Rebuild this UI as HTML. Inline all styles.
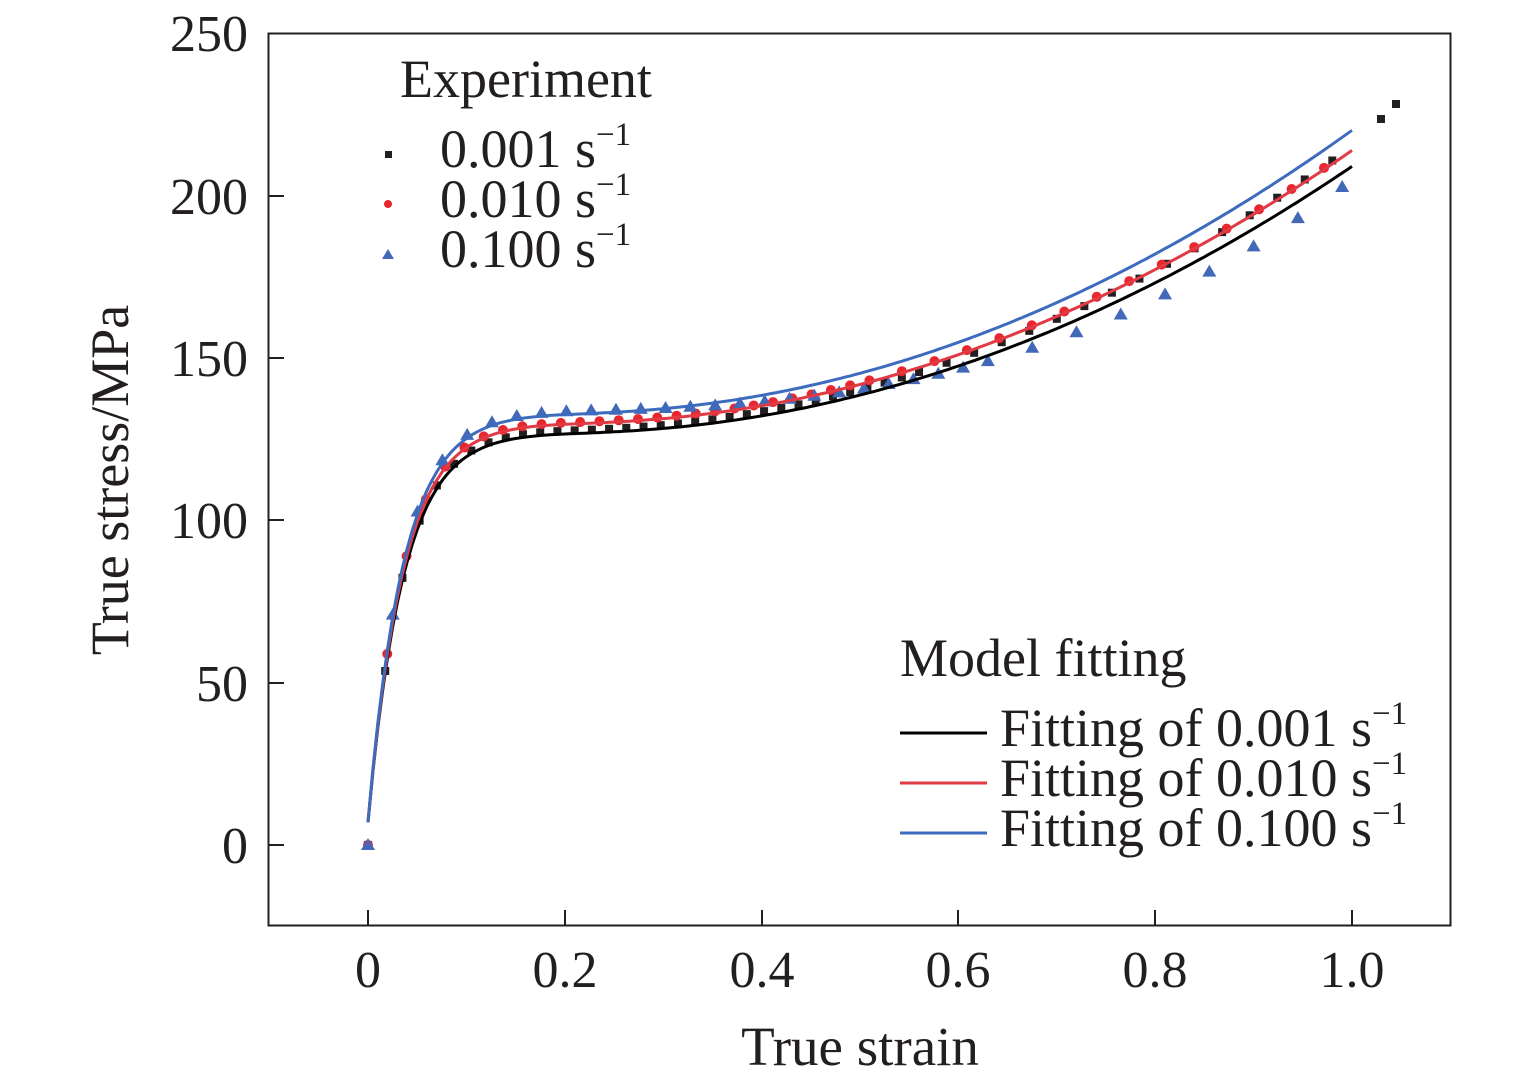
<!DOCTYPE html>
<html><head><meta charset="utf-8"><style>
body{margin:0;background:#fff}
svg text{font-family:"Liberation Serif",serif;fill:#231f20}
</style></head><body>
<svg id="s" width="1535" height="1083" xmlns="http://www.w3.org/2000/svg">
<rect x="268.5" y="33.5" width="1182" height="892" fill="none" stroke="#231f20" stroke-width="2"/>
<g stroke="#231f20" stroke-width="2">
<line x1="268" y1="845" x2="284" y2="845"/><line x1="268" y1="683" x2="284" y2="683"/><line x1="268" y1="520" x2="284" y2="520"/><line x1="268" y1="358" x2="284" y2="358"/><line x1="268" y1="196" x2="284" y2="196"/>
<line x1="368" y1="926" x2="368" y2="910"/><line x1="565" y1="926" x2="565" y2="910"/><line x1="762" y1="926" x2="762" y2="910"/><line x1="958" y1="926" x2="958" y2="910"/><line x1="1155" y1="926" x2="1155" y2="910"/><line x1="1352" y1="926" x2="1352" y2="910"/>
</g>
<g font-size="52" text-anchor="end">
<text x="248" y="863">0</text><text x="248" y="701">50</text><text x="248" y="538">100</text><text x="248" y="376">150</text><text x="248" y="214">200</text><text x="248" y="51">250</text>
</g>
<g font-size="52" text-anchor="middle">
<text x="368" y="987">0</text><text x="565" y="987">0.2</text><text x="762" y="987">0.4</text><text x="958" y="987">0.6</text><text x="1155" y="987">0.8</text><text x="1352" y="987">1.0</text>
</g>
<text x="860" y="1065" font-size="55" text-anchor="middle">True strain</text>
<text transform="translate(128,480) rotate(-90)" font-size="54" text-anchor="middle">True stress/MPa</text>
<g font-size="54">
<text x="400" y="97">Experiment</text>
<text x="440" y="167">0.001 s<tspan font-size="33" dy="-22">−1</tspan></text>
<text x="440" y="217">0.010 s<tspan font-size="33" dy="-22">−1</tspan></text>
<text x="440" y="267">0.100 s<tspan font-size="33" dy="-22">−1</tspan></text>
<text x="900" y="676">Model fitting</text>
<text x="1000" y="746">Fitting of 0.001 s<tspan font-size="33" dy="-22">−1</tspan></text>
<text x="1000" y="796">Fitting of 0.010 s<tspan font-size="33" dy="-22">−1</tspan></text>
<text x="1000" y="846">Fitting of 0.100 s<tspan font-size="33" dy="-22">−1</tspan></text>
</g>
<rect x="385" y="151" width="7" height="7" fill="#231f20"/>
<circle cx="388" cy="204" r="4" fill="#e8262d"/>
<polygon points="382,259 394,259 388,249" fill="#4169b8"/>
<line x1="900" y1="733" x2="987" y2="733" stroke="#000" stroke-width="3"/>
<line x1="900" y1="783" x2="987" y2="783" stroke="#e23a45" stroke-width="3"/>
<line x1="900" y1="833" x2="987" y2="833" stroke="#3d6bbd" stroke-width="3"/>
<g id="d"></g>
</svg>
<script>
var X=e=>368+984*e, Y=s=>845-3.248*s;
function f(e,p,C,D){D=D||0;var h=e>0.2?(e-0.2):0;return 7+(p-7)*(1-Math.exp(-e/0.036))+C*h*h+D*h*h*h;}
var out='';
function line(p,C,col){var d='';for(var i=0;i<=200;i++){var e=i/200;d+=(i?'L':'M')+X(e).toFixed(1)+' '+Y(f(e,p,C)).toFixed(1);}out+='<path d="'+d+'" fill="none" stroke="'+col+'" stroke-width="3"/>';}
function pts(a,b,split){var r=[],e=0;while(e<=1.0001){r.push(e);e+=(e<split?a:b);}return r;}
pts(0.0175,0.028,0.55).forEach(function(e){var s=e==0?0:f(e,128,136);var x=X(e),y=Y(s);out+='<rect x="'+(x-4)+'" y="'+(y-4)+'" width="8" height="8" fill="#231f20"/>';});
out+='<rect x="1377" y="115" width="8" height="8" fill="#231f20"/><rect x="1392" y="100" width="8" height="8" fill="#231f20"/>';
pts(0.0196,0.033,0.5).forEach(function(e){var s=e==0?0:f(e,130.5,131);out+='<circle cx="'+X(e)+'" cy="'+Y(s)+'" r="5" fill="#e8262d"/>';});
pts(0.0252,0.045,0.62).forEach(function(e){var s=e==0?0:f(e,134,46.7,80);var x=X(e),y=Y(s);out+='<polygon points="'+(x-7)+','+(y+5)+' '+(x+7)+','+(y+5)+' '+x+','+(y-7)+'" fill="#4169b8"/>';});
line(127,128,'#000');line(130,131,'#e23a45');line(133,136,'#3d6bbd');
document.getElementById('d').innerHTML=out;
</script>
</body></html>
